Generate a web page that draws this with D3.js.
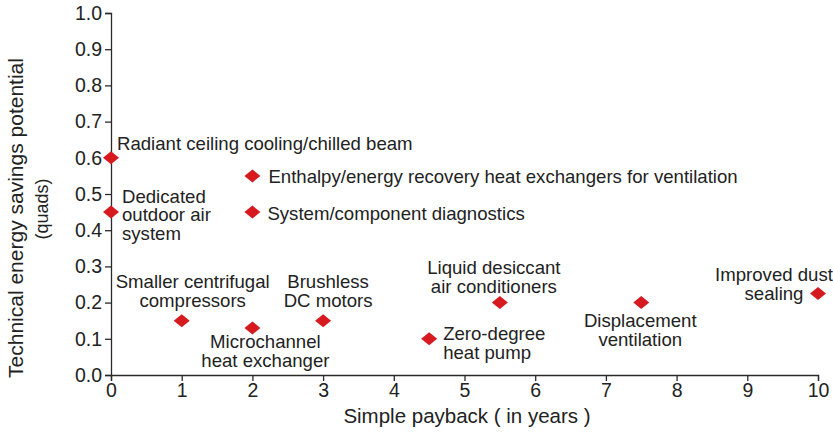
<!DOCTYPE html>
<html><head><meta charset="utf-8">
<script src="https://cdnjs.cloudflare.com/ajax/libs/d3/7.8.5/d3.min.js"></script>
<style>body{margin:0;background:#fff}svg{display:block;font-family:"Liberation Sans",Arial,sans-serif}</style>
</head><body><svg id="c" width="833" height="432"></svg>
<script>
const names = ["Radiant ceiling cooling/chilled beam","Dedicated outdoor air system","Enthalpy/energy recovery heat exchangers for ventilation","System/component diagnostics","Smaller centrifugal compressors","Microchannel heat exchanger","Brushless DC motors","Zero-degree heat pump","Liquid desiccant air conditioners","Displacement ventilation","Improved dust sealing"];
const payback = [0,0,2,2,1,2,3,4.5,5.5,7.5,10];
const savings = [0.6,0.45,0.55,0.45,0.15,0.13,0.15,0.10,0.20,0.20,0.225];
const labelLines = [["Radiant ceiling cooling/chilled beam"],["Dedicated","outdoor air","system"],["Enthalpy/energy recovery heat exchangers for ventilation"],["System/component diagnostics"],["Smaller centrifugal","compressors"],["Microchannel","heat exchanger"],["Brushless","DC motors"],["Zero-degree","heat pump"],["Liquid desiccant","air conditioners"],["Displacement","ventilation"],["Improved dust","sealing"]];
// label placement: [dx, dy of first line center, anchor]
const labelPos = [[6,-14,"start"],[11,-16,"start"],[16,1,"start"],[15,1,"start"],[11,-39,"middle"],[13,14,"middle"],[5,-39,"middle"],[14,-5,"start"],[-6,-35,"middle"],[-1,18,"middle"],[-44,-19,"middle"]];
const xTicks = [0,1,2,3,4,5,6,7,8,9,10];
const yTicks = [0,0.1,0.2,0.3,0.4,0.5,0.6,0.7,0.8,0.9,1.0];

const svg = d3.select("#c");
const x = d3.scaleLinear().domain([0,10]).range([111,818]);
const y = d3.scaleLinear().domain([0,1]).range([375,13]);
const col = "#2a2a2a";

const xa = svg.append("g").attr("transform","translate(0,375)")
  .call(d3.axisBottom(x).tickValues(xTicks).tickFormat(d3.format("d")).tickSizeOuter(0).tickSize(6).tickPadding(2));
const ya = svg.append("g").attr("transform","translate(111,0)")
  .call(d3.axisLeft(y).tickValues(yTicks).tickFormat(d3.format(".1f")).tickSizeOuter(0).tickSize(6).tickPadding(3));
[xa,ya].forEach(a=>{a.selectAll("path,line").attr("stroke",col).attr("stroke-width",1.3);
  a.selectAll("text").attr("fill","#222").style("font-size","19.5px").style("font-family","'Liberation Sans',Arial,sans-serif");});

svg.append("text").attr("x",467).attr("y",423).attr("text-anchor","middle").attr("fill","#222")
  .style("font-size","20.5px").text("Simple payback ( in years )");
svg.append("text").attr("transform","translate(23,218) rotate(-90)").attr("text-anchor","middle").attr("fill","#222")
  .style("font-size","21px").text("Technical energy savings potential");
svg.append("text").attr("transform","translate(48,209) rotate(-90)").attr("text-anchor","middle").attr("fill","#222")
  .style("font-size","18px").text("(quads)");

const g = svg.append("g");
names.forEach((n,i)=>{
  const px = x(payback[i]), py = y(savings[i]);
  g.append("path").attr("d",`M${px-8},${py}L${px},${py-6.5}L${px+8},${py}L${px},${py+6.5}Z`).attr("fill","#d71920");
  const lp = labelPos[i];
  const t = g.append("text").attr("text-anchor",lp[2]).attr("fill","#222").style("font-size","18.6px");
  labelLines[i].forEach((l,j)=>{
    t.append("tspan").attr("x",px+lp[0]).attr("y",py+lp[1]+j*18.5).attr("dy","0.35em").text(l);
  });
});
</script></body></html>
